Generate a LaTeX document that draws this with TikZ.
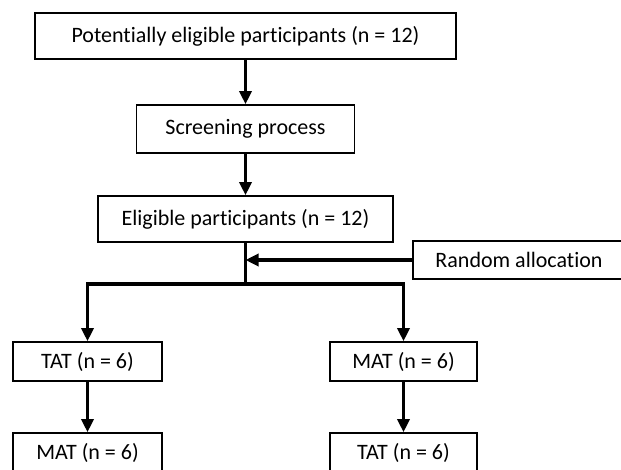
\documentclass[tikz,border=0pt]{standalone}
\usepackage{fontspec}
\setmainfont{Carlito}[Ligatures={NoCommon,NoRare}]
\usetikzlibrary{arrows.meta}
\begin{document}
\begin{tikzpicture}[x=1pt,y=-1pt,
  box/.style={draw, line width=1.6pt, inner sep=0pt, font=\fontsize{22}{26}\selectfont, anchor=center},
  conn/.style={line width=3.2pt},
  arr/.style={conn, -{Triangle[width=12pt,length=13pt]}}]
\clip (0,0) rectangle (621,470);
\fill[white] (0,0) rectangle (621,470);
\node[box, minimum width=421pt, minimum height=46pt] (pot) at (245.5,36) {Potentially eligible participants (n = 12)};
\node[box, minimum width=218pt, minimum height=48pt] (scr) at (245.5,129) {Screening process};
\node[box, minimum width=295pt, minimum height=46pt] (eli) at (245.5,219) {Eligible participants (n = 12)};
\node[box, minimum width=212pt, minimum height=38pt] (rnd) at (519,260) {Random allocation};
\node[box, minimum width=149pt, minimum height=39pt] (tatA) at (87.5,361.5) {TAT (n = 6)};
\node[box, minimum width=147pt, minimum height=39pt] (matA) at (403.5,361.5) {MAT (n = 6)};
\node[box, minimum width=149pt, minimum height=40pt] (matB) at (87.5,453) {MAT (n = 6)};
\node[box, minimum width=147pt, minimum height=40pt] (tatB) at (403.5,453) {TAT (n = 6)};
\coordinate (split) at (245.5,284);
\draw[arr] (pot.south) -- (scr.north);
\draw[arr] (scr.south) -- (eli.north);
\draw[conn] (eli.south) -- (split);
\draw[arr] (rnd.west) -- (rnd.west -| split);
\draw[arr] (split) -| (tatA.north);
\draw[arr] (split) -| (matA.north);
\draw[arr] (tatA.south) -- (matB.north);
\draw[arr] (matA.south) -- (tatB.north);
\end{tikzpicture}
\end{document}
